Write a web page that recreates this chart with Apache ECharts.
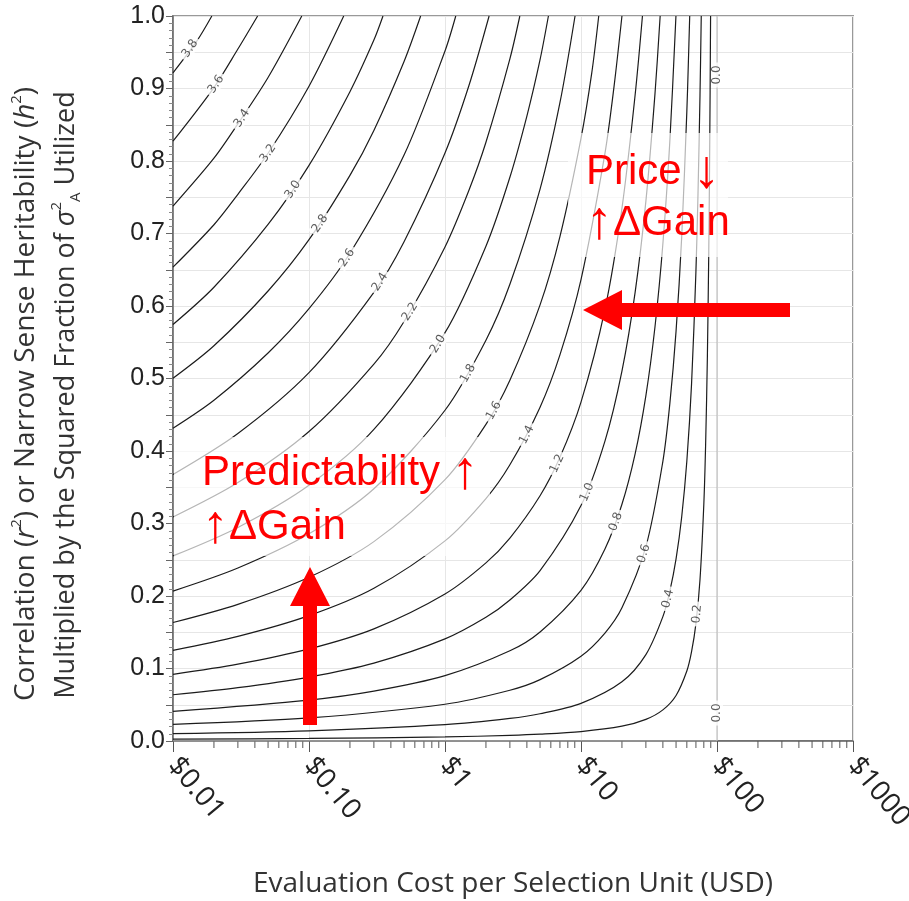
<!DOCTYPE html>
<html><head><meta charset="utf-8">
<script src="https://cdn.jsdelivr.net/npm/echarts@6/dist/echarts.min.js"></script>
<style>html,body{margin:0;padding:0;background:#fff}#c{width:909px;height:901px}</style>
</head><body><div id="c"></div>
<script>
// contour levels (gain) and their traced lines [cost USD, r^2]
const levels = ['0.2','0.4','0.6','0.8','1.0','1.2','1.4','1.6','1.8','2.0','2.2','2.4','2.6','2.8','3.0','3.2','3.4','3.6','3.8'];
const c02 = [[0.01,0.0026],[0.1,0.0035],[1,0.0056],[3,0.0078],[5,0.0094],[10,0.013],[20,0.0204],[30,0.0298],[40,0.0429],[50,0.0628],[60,0.0965],[65,0.1232],[70,0.1619],[75,0.2228],[80,0.3265],[82.5,0.4096],[85,0.5316],[87,0.676],[88,0.7741],[89,0.896],[89.7,1]];
const c04 = [[0.01,0.0102],[0.1,0.0141],[1,0.0225],[3,0.0311],[5,0.0376],[10,0.0519],[20,0.0816],[30,0.1191],[40,0.1715],[45,0.2068],[50,0.2513],[55,0.309],[60,0.3858],[65,0.4926],[70,0.6478],[72.5,0.755],[75,0.8914],[76.6,1]];
const c06 = [[0.01,0.023],[0.1,0.0318],[1,0.0507],[3,0.07],[5,0.0846],[10,0.1169],[15,0.1489],[20,0.1837],[30,0.2681],[40,0.3858],[45,0.4653],[50,0.5653],[55,0.6952],[60,0.8681],[61.5,0.932],[63,1]];
const c08 = [[0.01,0.0409],[0.1,0.0565],[0.3,0.0688],[1,0.0901],[3,0.1244],[5,0.1504],[10,0.2078],[15,0.2647],[20,0.3265],[25,0.396],[30,0.4765],[35,0.5714],[40,0.6858],[45,0.8272],[49.9,1]];
const c10 = [[0.01,0.0638],[0.03,0.0736],[0.1,0.0882],[0.3,0.1074],[1,0.1408],[2,0.1706],[3,0.1944],[5,0.235],[10,0.3247],[15,0.4136],[20,0.5102],[25,0.6188],[30,0.7446],[35,0.8929],[38.2,1]];
const c12 = [[0.01,0.0919],[0.03,0.106],[0.1,0.127],[0.3,0.1547],[1,0.2028],[2,0.2457],[3,0.2799],[5,0.3383],[7,0.3913],[10,0.4675],[15,0.5955],[20,0.7347],[25,0.8911],[28.3,1]];
const c14 = [[0.01,0.1251],[0.03,0.1443],[0.1,0.1729],[0.3,0.2106],[1,0.276],[2,0.3344],[3,0.381],[5,0.4605],[7,0.5326],[10,0.6364],[15,0.8106],[17.5,0.903],[20,1]];
const c16 = [[0.01,0.1634],[0.03,0.1885],[0.1,0.2258],[0.3,0.275],[1,0.3605],[2,0.4368],[3,0.4977],[5,0.6015],[7,0.6957],[10,0.8312],[12,0.9215],[13.5,1]];
const c18 = [[0.01,0.2068],[0.03,0.2386],[0.1,0.2858],[0.3,0.348],[1,0.4562],[2,0.5528],[3,0.6299],[5,0.7613],[7,0.8804],[9.04,1]];
const c20 = [[0.01,0.2553],[0.03,0.2946],[0.1,0.3528],[0.3,0.4297],[1,0.5632],[2,0.6825],[3,0.7776],[4,0.862],[5,0.9398],[5.76,1]];
const c22 = [[0.01,0.3089],[0.03,0.3564],[0.1,0.4269],[0.3,0.5199],[0.5,0.5787],[1,0.6815],[1.5,0.7597],[2,0.8258],[3,0.9409],[3.55,1]];
const c24 = [[0.01,0.3677],[0.03,0.4242],[0.1,0.5081],[0.3,0.6188],[0.5,0.6887],[1,0.811],[1.5,0.9041],[2.11,1]];
const c26 = [[0.01,0.4315],[0.02,0.4701],[0.05,0.5352],[0.1,0.5963],[0.2,0.6727],[0.5,0.8082],[1,0.9518],[1.2,1]];
const c28 = [[0.01,0.5004],[0.02,0.5452],[0.05,0.6207],[0.1,0.6915],[0.2,0.7802],[0.3,0.8422],[0.5,0.9373],[0.662,1]];
const c30 = [[0.01,0.5745],[0.02,0.6259],[0.05,0.7125],[0.1,0.7939],[0.2,0.8956],[0.3,0.9668],[0.35,1]];
const c32 = [[0.01,0.6536],[0.02,0.7121],[0.03,0.7541],[0.05,0.8107],[0.1,0.9032],[0.18,1]];
const c34 = [[0.01,0.7379],[0.02,0.804],[0.03,0.8513],[0.05,0.9152],[0.0885,1]];
const c36 = [[0.01,0.8273],[0.02,0.9013],[0.03,0.9544],[0.0419,1]];
const c38 = [[0.01,0.9217],[0.015,0.9657],[0.0193,1]];
const zeroLine = [[0.01,0],[100,0],[100,1]];
const contourLines = [c02,c04,c06,c08,c10,c12,c14,c16,c18,c20,c22,c24,c26,c28,c30,c32,c34,c36,c38];

// inline contour labels
const labelTexts = ['3.8','3.6','3.4','3.2','3.0','2.8','2.6','2.4','2.2','2.0','1.8','1.6','1.4','1.2','1.0','0.8','0.6','0.4','0.2','0.0','0.0'];
const labelPoints = [[0.01334,0.955],[0.0207,0.9056],[0.0321,0.8587],[0.05,0.8107],[0.0762,0.7605],[0.1205,0.7138],[0.19,0.6664],[0.3326,0.6332],[0.553,0.5921],[0.889,0.5475],[1.476,0.507],[2.29,0.4558],[4.0,0.4224],[6.67,0.3826],[11.07,0.3432],[18.07,0.3023],[29.0,0.2585],[43.6,0.1962],[71.3,0.1752],[100,0.0386],[100,0.9186]];
const labelAngles = [56,56,56,56,56,56,56,58,58,59,60,61,63,65,67,70,73,76,84,90,90];

const xTickLabels = ['$0.01','$0.10','$1','$10','$100','$1000'];
const yTickLabels = ['0.0','0.1','0.2','0.3','0.4','0.5','0.6','0.7','0.8','0.9','1.0'];
const xMinorTicks = [0.02,0.03,0.04,0.05,0.06,0.07,0.08,0.09,0.2,0.3,0.4,0.5,0.6,0.7,0.8,0.9,2,3,4,5,6,7,8,9,20,30,40,50,60,70,80,90,200,300,400,500,600,700,800,900];

const chart = echarts.init(document.getElementById('c'));
const series = contourLines.map((d, k) => ({
  type: 'line', name: levels[k], data: d, smooth: 0.3,
  showSymbol: false, symbol: 'none', silent: true, clip: true,
  lineStyle: { color: '#1c1c1c', width: 1.2 }
}));
series.push({ type: 'line', data: zeroLine, showSymbol: false, symbol: 'none', silent: true,
  lineStyle: { color: '#b5b5b5', width: 1 } });
series.push({
  type: 'scatter', silent: true, symbolSize: 1, itemStyle: { color: 'rgba(0,0,0,0)' },
  data: labelPoints.map((p, k) => ({ name: labelTexts[k], value: p, label: { rotate: labelAngles[k] } })),
  label: { show: true, position: 'inside', formatter: '{b}', fontSize: 12, fontFamily: 'DejaVu Sans',
    color: '#333', backgroundColor: '#ffffff', padding: [0, 3, 0, 3] },
  z: 5
});
series.push({
  type: 'custom', silent: true, clip: false,
  data: xMinorTicks.map(v => [v, 0]),
  renderItem: function (params, api) {
    const p = api.coord([api.value(0), 0]);
    return { type: 'line', shape: { x1: p[0], y1: p[1], x2: p[0], y2: p[1] + 7 },
      style: { stroke: '#555', lineWidth: 1 } };
  }
});

const redRich = {
  t: { fontSize: 42, fontFamily: 'Liberation Sans', fill: '#ff0000', color: '#ff0000' },
  a: { fontSize: 54, fontFamily: 'Liberation Sans', fill: '#ff0000', color: '#ff0000' }
};
function redText(txt) {
  return { text: txt, rich: redRich, fill: '#ff0000', textVerticalAlign: 'middle', textAlign: 'left' };
}
function titleRich(fs) {
  return {
    n: { fontSize: fs, fontFamily: 'Open Sans', fill: '#333' },
    i: { fontSize: fs, fontFamily: 'Open Sans', fontStyle: 'italic', fill: '#333' },
    sup: { fontSize: 15, fontFamily: 'Open Sans', fill: '#333', verticalAlign: 'top', lineHeight: 34 },
    sub: { fontSize: 15, fontFamily: 'Open Sans', fill: '#333', verticalAlign: 'bottom', lineHeight: 26 }
  };
}

chart.setOption({
  animation: false,
  backgroundColor: '#ffffff',
  grid: { left: 173, right: 56, top: 16, bottom: 160, containLabel: false, outerBoundsMode: 'none',
    show: true, borderColor: '#999', borderWidth: 2 },
  xAxis: {
    type: 'log', logBase: 10, min: 0.01, max: 1000,
    name: 'Evaluation Cost per Selection Unit (USD)', nameLocation: 'middle', nameGap: 129,
    nameTextStyle: { fontSize: 28, fontFamily: 'Open Sans', color: '#333' },
    axisLine: { show: true, lineStyle: { color: '#666', width: 1.5 } },
    axisTick: { show: true, length: 11, lineStyle: { color: '#555' } },
    minorTick: { show: false },
    splitLine: { show: true, lineStyle: { color: '#e6e6e6', width: 1 } },
    axisLabel: { rotate: -50, margin: 20, fontSize: 28, fontFamily: 'Open Sans', color: '#222',
      formatter: v => xTickLabels[Math.round(Math.log10(v)) + 2] }
  },
  yAxis: {
    type: 'value', min: 0, max: 1, interval: 0.05,
    axisLine: { show: true, lineStyle: { color: '#666', width: 1.5 } },
    axisTick: { show: true, length: 7, lineStyle: { color: '#666' } },
    minorTick: { show: true, splitNumber: 5, length: 4, lineStyle: { color: '#888' } },
    splitLine: { show: true, lineStyle: { color: '#e6e6e6', width: 1 } },
    axisLabel: { margin: 8, fontSize: 25, fontFamily: 'Liberation Sans', color: '#222',
      formatter: v => { const k = Math.round(v * 20); return k % 2 === 0 ? yTickLabels[k / 2] : ''; } }
  },
  series: series,
  graphic: [
    { type: 'rect', z: 50, silent: true, shape: { x: 568, y: 133, width: 160, height: 124 },
      style: { fill: 'rgba(255,255,255,0.68)' } },
    { type: 'rect', z: 50, silent: true, shape: { x: 174, y: 437, width: 316, height: 119 },
      style: { fill: 'rgba(255,255,255,0.68)' } },
    { type: 'text', z: 60, x: 586, y: 172, style: redText('{t|Price }{a|\u2193}') },
    { type: 'text', z: 60, x: 586, y: 223, style: redText('{a|\u2191}{t|\u0394Gain}') },
    { type: 'text', z: 60, x: 202, y: 473, style: redText('{t|Predictability }{a|\u2191}') },
    { type: 'text', z: 60, x: 202, y: 527, style: redText('{a|\u2191}{t|\u0394Gain}') },
    { type: 'polygon', z: 60, silent: true,
      shape: { points: [[303,725],[317,725],[317,606],[330,606],[310,567],[290,606],[303,606]] },
      style: { fill: '#ff0000' } },
    { type: 'polygon', z: 60, silent: true,
      shape: { points: [[790,303],[622,303],[622,290],[583,310],[622,330],[622,317],[790,317]] },
      style: { fill: '#ff0000' } },
    { type: 'text', z: 60, x: 26, y: 394, rotation: Math.PI / 2,
      style: { text: '{n|Correlation (}{i|r}{sup|2}{n|) or Narrow Sense Heritability (}{i|h}{sup|2}{n|)}',
        rich: titleRich(28), fill: '#333', textAlign: 'center', textVerticalAlign: 'middle' } },
    { type: 'text', z: 60, x: 66, y: 395, rotation: Math.PI / 2,
      style: { text: '{n|Multiplied by the Squared Fraction of }{i|\u03c3}{sup|2}{sub|A}{n| Utilized}',
        rich: titleRich(27), fill: '#333', textAlign: 'center', textVerticalAlign: 'middle' } }
  ]
});
</script></body></html>
